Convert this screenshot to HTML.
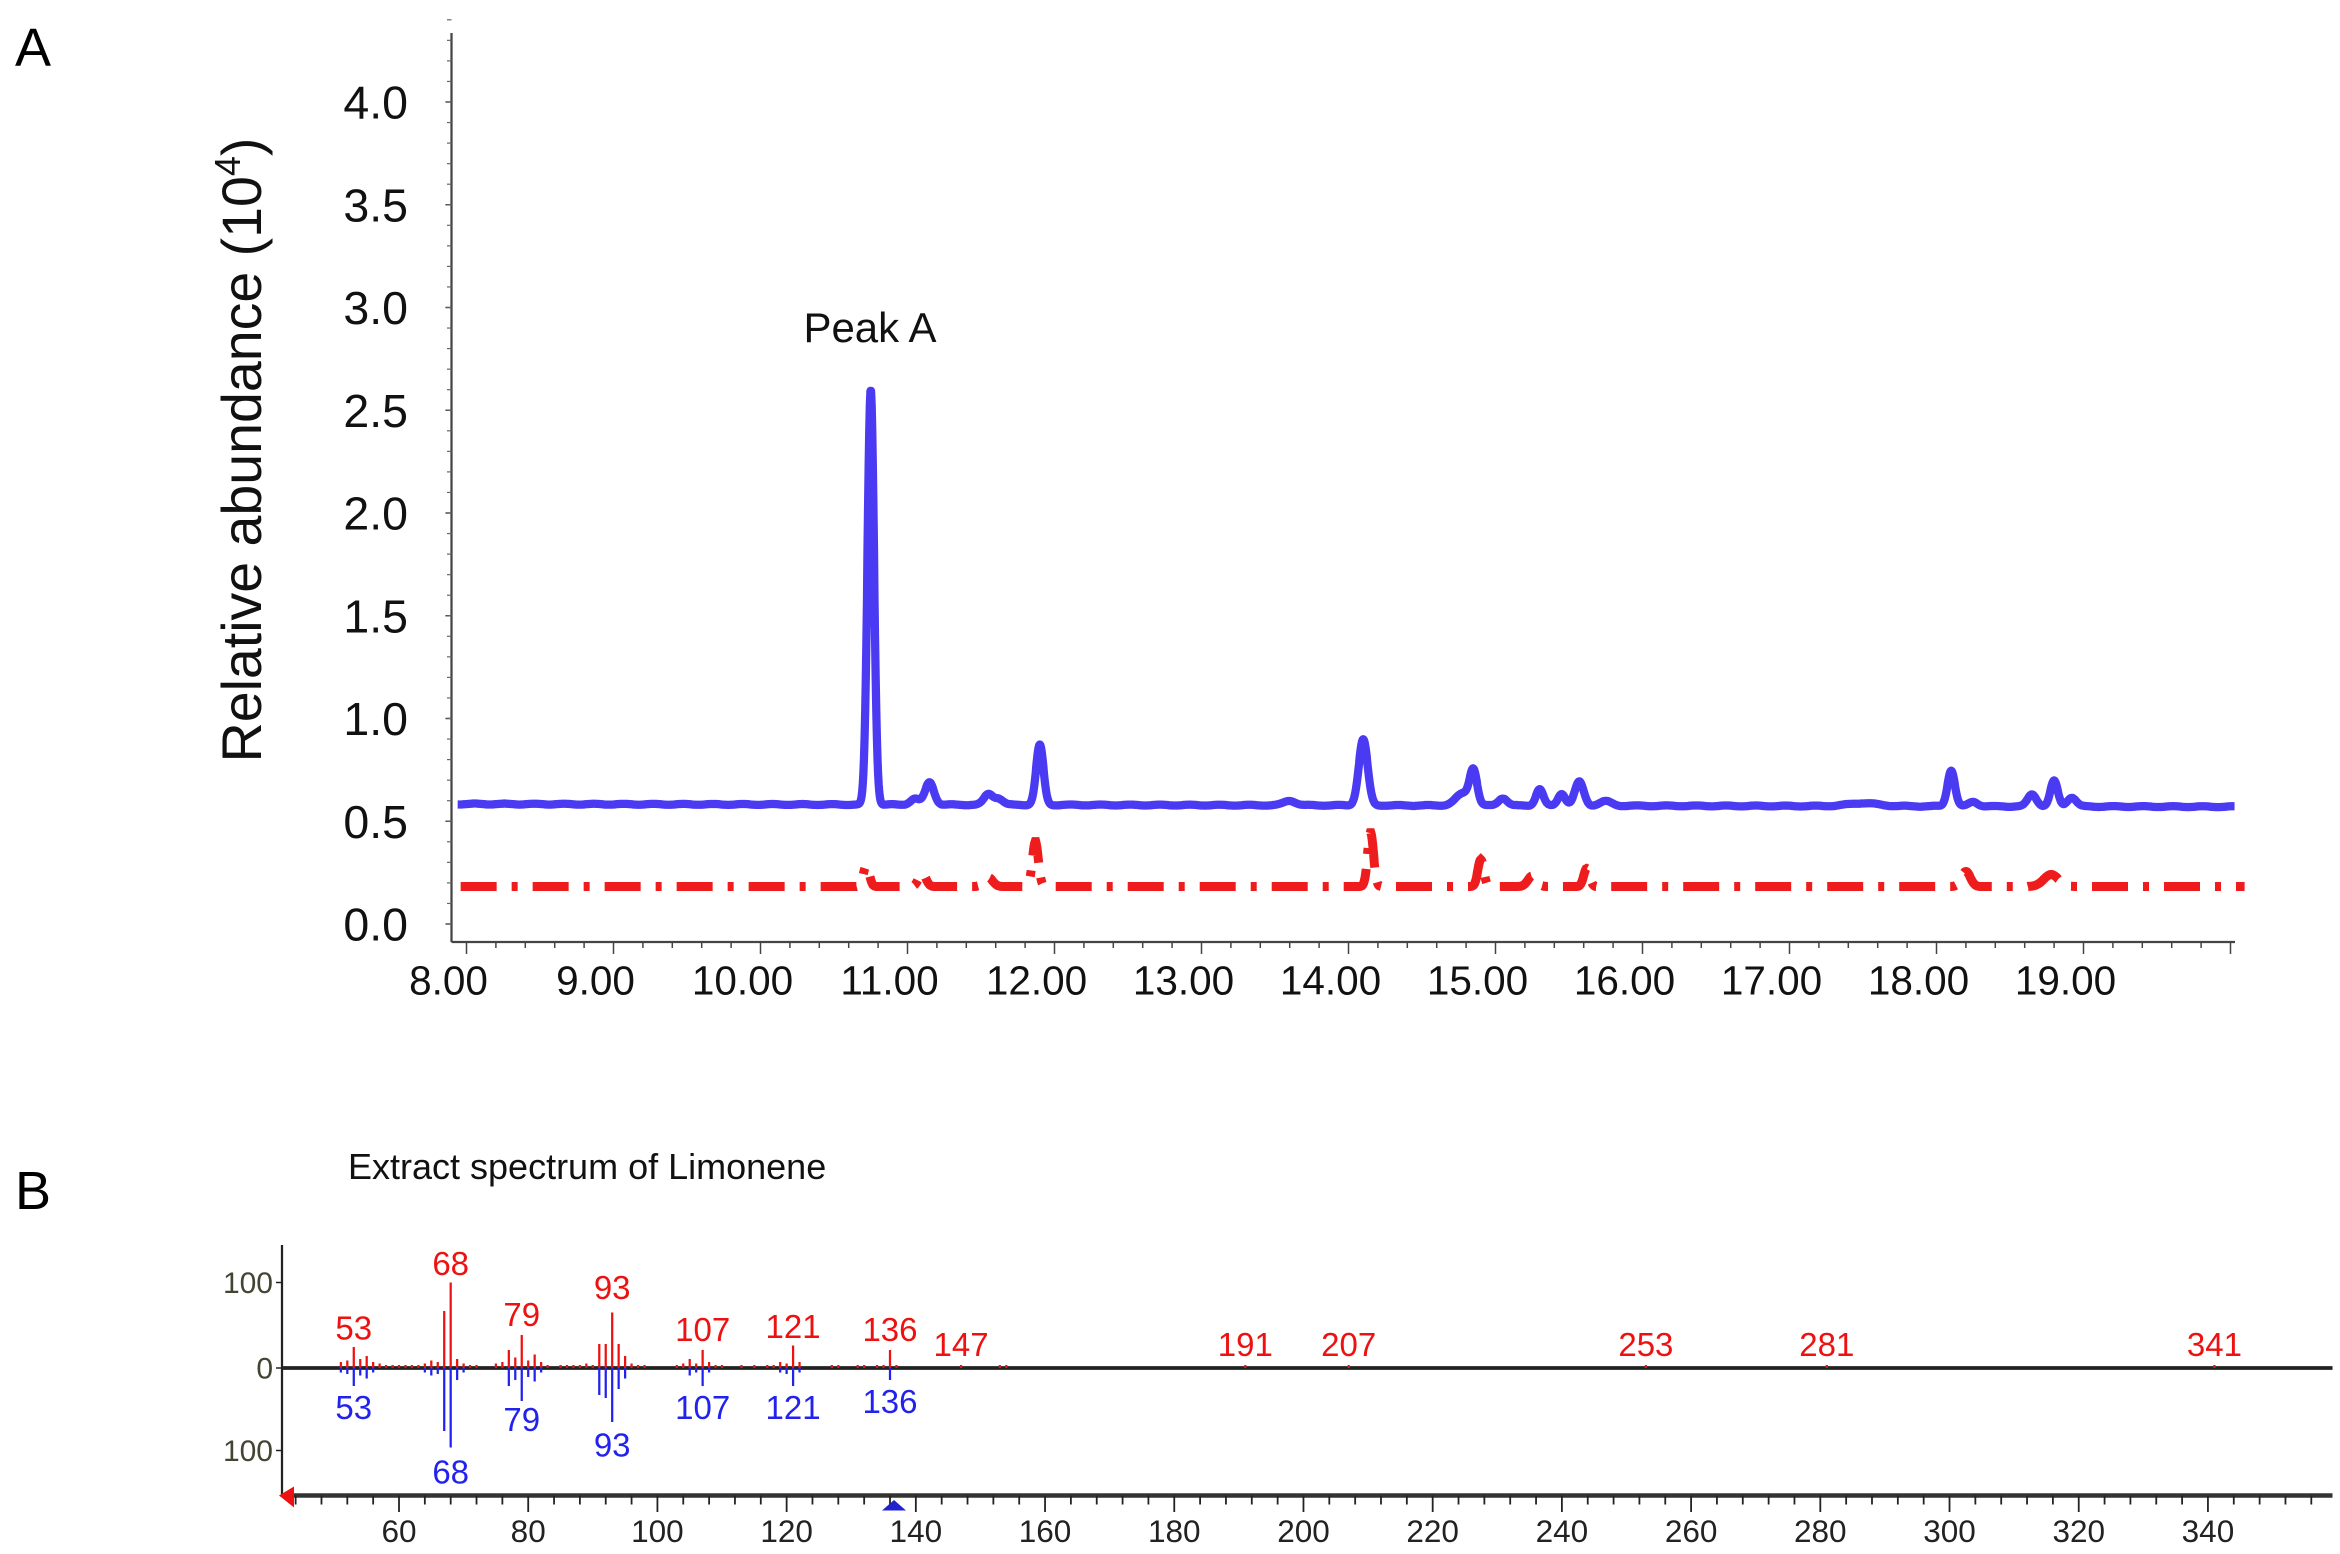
<!DOCTYPE html>
<html><head><meta charset="utf-8"><style>
html,body{margin:0;padding:0;background:#fff;}
svg{display:block;}
text{font-family:"Liberation Sans",sans-serif;}
.n{font-family:"Liberation Sans Narrow","Liberation Sans",sans-serif;}
</style></head><body>
<svg id="s" width="2340" height="1554" viewBox="0 0 1560 1036" xmlns="http://www.w3.org/2000/svg">
<rect width="1560" height="1036" fill="#fff"/>
<text x="10" y="44" font-size="36">A</text>
<text x="10" y="806" font-size="36">B</text>
<g id="A"></g>
<g id="B"></g>
</svg>
<script>
var NS="http://www.w3.org/2000/svg";
function el(p,t,a,txt){var e=document.createElementNS(NS,t);for(var k in a)e.setAttribute(k,a[k]);if(txt!==undefined)e.textContent=txt;document.getElementById(p).appendChild(e);return e;}
// ---- Panel A
el("A","line",{x1:301,y1:22,x2:301,y2:628,stroke:"#444","stroke-width":1.5});
el("A","line",{x1:301,y1:628,x2:1490,y2:628,stroke:"#444","stroke-width":1.5});
var labs=["4.0","3.5","3.0","2.5","2.0","1.5","1.0","0.5","0.0"];
for(var i=0;i<9;i++){var y=68+i*68.5;el("A","text",{x:272,y:y+11,"font-size":31,"text-anchor":"end",fill:"#111"},labs[i]);el("A","line",{x1:297,y1:y,x2:301,y2:y,stroke:"#444"});}
for(var v=0;v<=4.4;v+=0.1){var y=616-v*137;el("A","line",{x1:298,y1:y,x2:301,y2:y,stroke:"#666","stroke-width":0.8});}
var yt=el("A","text",{transform:"translate(174,300) rotate(-90)","font-size":37,"text-anchor":"middle",fill:"#111"});
var s1=document.createElementNS(NS,"tspan");s1.textContent="Relative abundance (10";yt.appendChild(s1);
var s2=document.createElementNS(NS,"tspan");s2.setAttribute("dy",-14);s2.setAttribute("font-size",24);s2.textContent="4";yt.appendChild(s2);
var s3=document.createElementNS(NS,"tspan");s3.setAttribute("dy",14);s3.textContent=")";yt.appendChild(s3);
function X(t){return 311+(t-8)*98;}
for(var t=8;t<=20.0001;t+=0.2){var x=X(t);var maj=Math.abs(t-Math.round(t))<0.01;el("A","line",{x1:x,y1:628,x2:x,y2:maj?636:632,stroke:"#444","stroke-width":1});}
for(var k=8;k<=19;k++){el("A","text",{x:X(k)-12,y:663,"font-size":27,"text-anchor":"middle",fill:"#111"},k+".00");}
el("A","text",{x:580,y:228,"font-size":28,"text-anchor":"middle",fill:"#111"},"Peak A");
var pk=[[10.75,277,0.022],[11.15,15,0.03],[11.05,4,0.03],[11.55,7,0.03],[11.62,4,0.03],[11.9,40,0.025],[13.6,3,0.04],[14.1,44,0.03],[14.78,8,0.05],[14.85,22,0.025],[15.05,5,0.03],[15.3,11,0.025],[15.45,8,0.025],[15.57,16,0.03],[15.75,3,0.04],[18.1,24,0.025],[17.5,2,0.1],[18.25,3,0.03],[18.65,8,0.03],[18.8,17,0.025],[18.92,6,0.03]];
var d="";for(var t=7.94;t<=20.03;t+=0.004){var y=536+(t-8)*0.15+Math.sin(t*31)*0.3;for(var j=0;j<pk.length;j++){var p=pk[j];y-=p[1]*Math.exp(-Math.pow((t-p[0])/p[2],2)/2);}d+=(d?"L":"M")+X(t).toFixed(1)+" "+y.toFixed(1);}
el("A","path",{d:d,fill:"none",stroke:"#4a3af2","stroke-width":5.5,"stroke-linejoin":"round"});
var sp=[[10.72,14,0.02],[11.1,9,0.025],[11.55,6,0.03],[11.87,30,0.02],[14.15,36,0.02],[14.9,18,0.02],[15.25,7,0.03],[15.62,12,0.02],[18.2,10,0.03],[18.78,8,0.05]];
d="";for(var t=7.96;t<=20.1;t+=0.004){var y=591;for(var j=0;j<sp.length;j++){var p=sp[j];y-=p[1]*Math.exp(-Math.pow((t-p[0])/p[2],2)/2);}d+=(d?"L":"M")+X(t).toFixed(1)+" "+y.toFixed(1);}
el("A","path",{d:d,fill:"none",stroke:"#ee1c1c","stroke-width":6,"stroke-dasharray":"24 10 4 10"});
// ---- Panel B
el("B","text",{x:232,y:786,"font-size":24,fill:"#111"},"Extract spectrum of Limonene");
el("B","line",{x1:188,y1:830,x2:188,y2:998,stroke:"#222","stroke-width":1.5});
el("B","line",{x1:188,y1:912,x2:1555,y2:912,stroke:"#222","stroke-width":2.5});
el("B","line",{x1:188,y1:997,x2:1555,y2:997,stroke:"#333","stroke-width":3});
[[855,"100"],[912,"0"],[967,"100"]].forEach(function(a){el("B","text",{x:182,y:a[0]+7,"font-size":20,"text-anchor":"end",fill:"#443","class":"n"},a[1]);el("B","line",{x1:184,y1:a[0],x2:188,y2:a[0],stroke:"#222"});});
function M(m){return 266+(m-60)*4.307;}
for(var m=44;m<=356;m+=4){var x=M(m);var maj=(m%20==0);el("B","line",{x1:x,y1:997,x2:x,y2:maj?1008:1003,stroke:"#222","stroke-width":1.2});}
for(var m=60;m<=340;m+=20){el("B","text",{x:M(m),y:1028,"font-size":21,"text-anchor":"middle",fill:"#222","class":"n"},m);}
el("B","path",{d:"M186 997 L196 991 L196 1005Z",fill:"#e11"});
el("B","path",{d:"M596 1000 L588 1007 L604 1007Z",fill:"#22c"});
var up={51:4,52:5,53:14,54:6,55:8,56:4,57:3,58:2,59:2,60:2,61:2,62:2,63:2,64:3,65:5,66:4,67:38,68:57,69:6,70:3,71:2,72:2,75:3,76:4,77:12,78:7,79:22,80:5,81:9,82:4,83:2,85:2,86:2,87:2,88:2,89:3,90:2,91:16,92:16,93:37,94:16,95:8,96:3,97:2,98:2,103:2,104:3,105:6,106:3,107:12,108:4,109:2,110:2,113:2,115:2,117:2,118:2,119:4,120:3,121:15,122:4,127:2,128:2,131:2,132:2,134:2,135:2,136:12,137:2,147:2,153:2,154:2,191:2,207:2,253:2,281:2,341:2};
for(var m in up){el("B","line",{x1:M(+m),y1:912,x2:M(+m),y2:912-up[m],stroke:"#ee1111","stroke-width":1.5});}
var dn={51:3,52:4,53:12,54:5,55:7,56:3,64:3,65:5,66:4,67:42,68:53,69:8,70:3,77:12,78:8,79:22,80:6,81:9,82:3,91:18,92:20,93:36,94:14,95:7,105:5,106:3,107:12,108:3,119:3,120:4,121:12,122:3,136:8};
for(var m in dn){el("B","line",{x1:M(+m),y1:912,x2:M(+m),y2:912+dn[m],stroke:"#2222ee","stroke-width":1.5});}
[[68,850],[53,893],[79,884],[93,866],[107,894],[121,892],[136,894],[147,904],[191,904],[207,904],[253,904],[281,904],[341,904]].forEach(function(a){el("B","text",{x:M(a[0]),y:a[1],"font-size":22,"text-anchor":"middle",fill:"#ee1111","class":"n"},a[0]);});
[[53,946],[79,954],[93,971],[107,946],[121,946],[136,942],[68,989]].forEach(function(a){el("B","text",{x:M(a[0]),y:a[1],"font-size":22,"text-anchor":"middle",fill:"#2222ee","class":"n"},a[0]);});
</script>
</body></html>
